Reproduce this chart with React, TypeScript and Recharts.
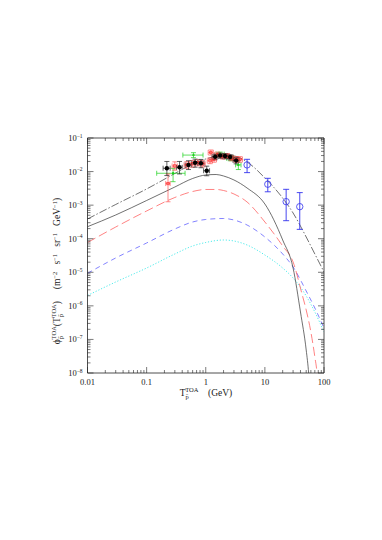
'use client'

import { ComposedChart, Line, Scatter, XAxis, YAxis, ErrorBar } from 'recharts'

const W = 382
const H = 540
const serif = '"Liberation Serif", "DejaVu Serif", serif'
const ink = '#222'

// axis ticks
const xMajor = [0.01, 0.1, 1, 10, 100]
const xMajorLabels = ['0.01', '0.1', '1', '10', '100']
const yMajor = [1e-8, 1e-7, 1e-6, 1e-5, 1e-4, 1e-3, 1e-2, 1e-1]
const yMajorExp = ['\u22128', '\u22127', '\u22126', '\u22125', '\u22124', '\u22123', '\u22122', '\u22121']
const minorSteps = [2, 3, 4, 5, 6, 7, 8, 9]

const withMinor = (majors: number[]) => {
  const out: number[] = []
  majors.forEach((m, i) => {
    out.push(m)
    if (i < majors.length - 1) minorSteps.forEach(s => out.push(m * s))
  })
  return out
}
const xTicks = withMinor(xMajor)
const yTicks = withMinor(yMajor)

// model curves
const upperX = [0.01, 0.03, 0.1, 0.3, 0.6, 1, 2, 3, 5, 10, 20, 30, 50, 70, 100]
const upperY = [3.87e-4, 1.046e-3, 3.03e-3, 8.77e-3, 1.68e-2, 2.37e-2, 3.01e-2, 2.91e-2, 1.93e-2, 6.44e-3, 1.63e-3, 5.84e-4, 1.125e-4, 3.51e-5, 1.02e-5]

const solidX = [0.01, 0.03, 0.1, 0.3, 0.6, 1, 1.5, 2, 3, 5, 10, 20, 30, 40, 50, 55, 60]
const solidY = [2.28e-4, 5.09e-4, 1.376e-3, 3.47e-3, 6.22e-3, 7.91e-3, 8.18e-3, 7.39e-3, 5.62e-3, 3.24e-3, 1.082e-3, 9.16e-5, 1.34e-5, 6.56e-7, 4.84e-8, 1e-8, 1e-9]

const redX = [0.01, 0.03, 0.1, 0.3, 0.6, 1, 1.5, 2, 3, 5, 10, 20, 30, 42, 50, 60, 70, 76, 82]
const redY = [7.72e-5, 2.23e-4, 6.7e-4, 1.69e-3, 2.55e-3, 2.93e-3, 2.93e-3, 2.73e-3, 2.15e-3, 1.241e-3, 3.15e-4, 6.07e-5, 2.03e-5, 2.42e-6, 7.53e-7, 1.66e-7, 3.0e-8, 1e-8, 1e-9]

const blueX = [0.01, 0.03, 0.1, 0.3, 0.6, 1, 2, 3, 5, 10, 20, 30, 50, 70, 100]
const blueY = [9.33e-6, 2.67e-5, 7.46e-5, 1.95e-4, 3.15e-4, 3.74e-4, 4.0e-4, 3.61e-4, 2.56e-4, 1.125e-4, 3.51e-5, 1.44e-5, 2.77e-6, 8.64e-7, 2.19e-7]

const cyanX = [0.01, 0.03, 0.1, 0.3, 0.6, 1, 2, 3, 5, 10, 20, 30, 50, 70, 100]
const cyanY = [2.04e-6, 5.14e-6, 1.34e-5, 3.51e-5, 6.07e-5, 7.72e-5, 9.16e-5, 8.55e-5, 6.5e-5, 3.27e-5, 1.34e-5, 6.76e-6, 1.97e-6, 6.56e-7, 1.66e-7]

// measurements
const bessX = [0.22, 0.36, 0.51, 0.66, 0.83, 1.04, 1.44, 1.75, 2.12, 2.58, 3.26]
const bessXLo = [0.19, 0.32, 0.45, 0.58, 0.74, 0.92, 1.28, 1.55, 1.88, 2.3, 2.9]
const bessXHi = [0.25, 0.4, 0.57, 0.74, 0.93, 1.16, 1.61, 1.96, 2.38, 2.9, 3.65]
const bessY = [0.0126, 0.0134, 0.0158, 0.0183, 0.0177, 0.0106, 0.0277, 0.0301, 0.0291, 0.0272, 0.0214]
const bessLo = [0.0076, 0.0085, 0.0115, 0.0135, 0.013, 0.0075, 0.0225, 0.025, 0.024, 0.0225, 0.017]
const bessHi = [0.02, 0.02, 0.021, 0.0235, 0.023, 0.0145, 0.033, 0.0355, 0.034, 0.032, 0.026]

const ptsRedX = [0.23, 0.3, 0.48, 0.59, 0.73, 0.89, 1.18, 1.22, 1.38, 1.57, 1.94, 2.32, 2.75, 3.26, 3.8]
const ptsRedXLo = [0.21, 0.27, 0.43, 0.53, 0.66, 0.8, 1.06, 1.1, 1.24, 1.41, 1.75, 2.09, 2.48, 2.93, 3.42]
const ptsRedXHi = [0.25, 0.33, 0.53, 0.65, 0.8, 0.98, 1.3, 1.34, 1.52, 1.73, 2.13, 2.55, 3.03, 3.59, 4.18]
const ptsRedY = [0.0044, 0.0147, 0.0158, 0.017, 0.0184, 0.017, 0.021, 0.037, 0.023, 0.032, 0.028, 0.029, 0.025, 0.023, 0.023]
const ptsRedLo = [0.00126, 0.011, 0.0125, 0.0135, 0.0148, 0.0137, 0.0172, 0.031, 0.019, 0.027, 0.0235, 0.0245, 0.021, 0.019, 0.019]
const ptsRedHi = [0.0085, 0.0195, 0.0198, 0.0212, 0.0226, 0.021, 0.0255, 0.044, 0.0278, 0.038, 0.0335, 0.0345, 0.0298, 0.0278, 0.0278]

const greenX = [0.28, 0.62, 1.75, 2.6, 3.56]
const greenXLo = [0.148, 0.41, 1.5, 2.25, 3.2]
const greenXHi = [0.447, 0.9, 2.05, 3.0, 3.95]
const greenY = [0.0089, 0.031, 0.033, 0.025, 0.0158]
const greenLo = [0.005, 0.026, 0.0285, 0.021, 0.0115]
const greenHi = [0.0125, 0.0365, 0.038, 0.0295, 0.0215]

const circX = [5.0, 11.2, 22.9, 38.9]
const circY = [0.0158, 0.0042, 0.00127, 0.0009]
const circLo = [0.0093, 0.0025, 0.000344, 0.00019]
const circHi = [0.0232, 0.0063, 0.00296, 0.00236]

const curve = (xs: number[], ys: number[]) => xs.map((x, i) => ({ x, y: ys[i] }))
const points = (xs: number[], ys: number[], lo: number[], hi: number[], xlo?: number[], xhi?: number[]) =>
  xs.map((x, i) => ({
    x,
    y: ys[i],
    ey: [ys[i] - lo[i], hi[i] - ys[i]],
    ex: xlo && xhi ? [x - xlo[i], xhi[i] - x] : [0, 0],
  }))

const isMajor = (v: number) => Math.abs(Math.log10(v) - Math.round(Math.log10(v))) < 1e-6
const majorIndex = (list: number[], v: number) => list.findIndex(m => Math.abs(m - v) / m < 1e-6)

const BottomTick = ({ x, y, payload }: any) => {
  const v = payload.value
  const i = majorIndex(xMajor, v)
  return (
    <g>
      <line x1={x} x2={x} y1={y} y2={y - (isMajor(v) ? 6 : 3)} stroke={ink} strokeWidth={0.6} />
      {i >= 0 && (
        <text x={x} y={y + 12} textAnchor="middle" fontSize={8.5} fontFamily={serif} fill={ink}>
          {xMajorLabels[i]}
        </text>
      )}
    </g>
  )
}

const TopTick = ({ x, y, payload }: any) => (
  <line x1={x} x2={x} y1={y} y2={y + (isMajor(payload.value) ? 6 : 3)} stroke={ink} strokeWidth={0.6} />
)

const LeftTick = ({ x, y, payload }: any) => {
  const v = payload.value
  const i = majorIndex(yMajor, v)
  return (
    <g>
      <line x1={x} x2={x + (isMajor(v) ? 6 : 3)} y1={y} y2={y} stroke={ink} strokeWidth={0.6} />
      {i >= 0 && (
        <text x={x - 5} y={y + 3} textAnchor="end" fontSize={8.5} fontFamily={serif} fill={ink}>
          10<tspan dy={-3.5} fontSize={5.5}>{yMajorExp[i]}</tspan>
        </text>
      )}
    </g>
  )
}

const RightTick = ({ x, y, payload }: any) => (
  <line x1={x} x2={x - (isMajor(payload.value) ? 6 : 3)} y1={y} y2={y} stroke={ink} strokeWidth={0.6} />
)

const sp = '\u00a0'

const Titles = () => (
  <svg width={W} height={H} style={{ position: 'absolute', left: 0, top: 0, pointerEvents: 'none' }}>
    <text x={206} y={396} textAnchor="middle" fontSize={9.5} fontFamily={serif} fill={ink}>
      T<tspan dy={2.5} fontSize={6.5}>p̄</tspan>
      <tspan dx={-3.5} dy={-6.5} fontSize={6.5}>TOA</tspan>
      <tspan dy={4}>{`${sp}${sp}${sp}${sp}(GeV)`}</tspan>
    </text>
    <text transform="translate(60,271) rotate(-90)" textAnchor="middle" fontSize={9.5} fontFamily={serif} fill={ink}>
      ϕ<tspan dy={2.5} fontSize={6.5}>p̄</tspan>
      <tspan dx={-3.5} dy={-6.5} fontSize={6.5}>TOA</tspan>
      <tspan dy={4}>(T</tspan>
      <tspan dy={2.5} fontSize={6.5}>p̄</tspan>
      <tspan dx={-3.5} dy={-6.5} fontSize={6.5}>TOA</tspan>
      <tspan dy={4}>{`)${sp}${sp}${sp}${sp}${sp}(m`}</tspan>
      <tspan dy={-3.5} fontSize={6.5}>{'\u22122'}</tspan>
      <tspan dy={3.5}>{`${sp}${sp}${sp}s`}</tspan>
      <tspan dy={-3.5} fontSize={6.5}>{'\u22121'}</tspan>
      <tspan dy={3.5}>{`${sp}${sp}${sp}sr`}</tspan>
      <tspan dy={-3.5} fontSize={6.5}>{'\u22121'}</tspan>
      <tspan dy={3.5}>{`${sp}${sp}${sp}GeV`}</tspan>
      <tspan dy={-3.5} fontSize={6.5}>{'\u22121'}</tspan>
      <tspan dy={3.5}>)</tspan>
    </text>
  </svg>
)

const dot = (r: number, color: string) => (p: any) => <circle cx={p.cx} cy={p.cy} r={r} fill={color} />
const ring = (r: number, color: string) => (p: any) => (
  <circle cx={p.cx} cy={p.cy} r={r} fill="none" stroke={color} strokeWidth={0.8} />
)
const box = (s: number, color: string) => (p: any) => (
  <rect x={p.cx - s / 2} y={p.cy - s / 2} width={s} height={s} fill="none" stroke={color} strokeWidth={0.7} />
)

export default function App() {
  const axisProps = {
    type: 'number' as const,
    scale: 'log' as const,
    allowDataOverflow: true,
    interval: 0,
    tickSize: 0,
    tickMargin: 0,
    tickLine: false,
    axisLine: { stroke: ink, strokeWidth: 0.8 },
  }
  const lineProps = { dataKey: 'y', dot: false, activeDot: false, isAnimationActive: false, type: 'monotone' as const }

  return (
    <div style={{ position: 'absolute', left: 0, top: 0, width: W, height: H, background: '#fff' }}>
      <ComposedChart width={W} height={H} margin={{ top: 128, right: 48, bottom: 137, left: 47.5 }}>
        <XAxis {...axisProps} dataKey="x" domain={[0.01, 100]} ticks={xTicks} height={30} tick={<BottomTick />} />
        <XAxis {...axisProps} xAxisId="top" orientation="top" dataKey="x" domain={[0.01, 100]} ticks={xTicks} height={10} tick={<TopTick />} />
        <YAxis {...axisProps} dataKey="y" domain={[1e-8, 1e-1]} ticks={yTicks} width={40} tick={<LeftTick />} />
        <YAxis {...axisProps} yAxisId="right" orientation="right" dataKey="y" domain={[1e-8, 1e-1]} ticks={yTicks} width={10} tick={<RightTick />} />

        <Line {...lineProps} data={curve(cyanX, cyanY)} stroke="#22e6e6" strokeWidth={0.8} strokeDasharray="1.2 1.8" />
        <Line {...lineProps} data={curve(blueX, blueY)} stroke="#4d4dff" strokeWidth={0.7} strokeDasharray="5 4" />
        <Line {...lineProps} data={curve(redX, redY)} stroke="#ff4d4d" strokeWidth={0.7} strokeDasharray="9 4" />
        <Line {...lineProps} data={curve(solidX, solidY)} stroke="#333" strokeWidth={0.7} />
        <Line {...lineProps} data={curve(upperX, upperY)} stroke="#333" strokeWidth={0.7} strokeDasharray="8 2 1.5 2" />

        <Scatter data={points(greenX, greenY, greenLo, greenHi, greenXLo, greenXHi)} shape={dot(1.2, '#1bd11b')} isAnimationActive={false}>
          <ErrorBar dataKey="ey" direction="y" width={2.5} stroke="#1bd11b" strokeWidth={0.7} isAnimationActive={false} />
          <ErrorBar dataKey="ex" direction="x" width={2.5} stroke="#1bd11b" strokeWidth={0.7} isAnimationActive={false} />
        </Scatter>
        <Scatter data={points(ptsRedX, ptsRedY, ptsRedLo, ptsRedHi, ptsRedXLo, ptsRedXHi)} shape={box(2.4, '#ff2a2a')} isAnimationActive={false}>
          <ErrorBar dataKey="ey" direction="y" width={2.5} stroke="#ff3a3a" strokeWidth={0.6} isAnimationActive={false} />
          <ErrorBar dataKey="ex" direction="x" width={2.5} stroke="#ff3a3a" strokeWidth={0.6} isAnimationActive={false} />
        </Scatter>
        <Scatter data={points(bessX, bessY, bessLo, bessHi, bessXLo, bessXHi)} shape={dot(2.2, '#000')} isAnimationActive={false}>
          <ErrorBar dataKey="ey" direction="y" width={2.5} stroke="#222" strokeWidth={0.7} isAnimationActive={false} />
          <ErrorBar dataKey="ex" direction="x" width={2.5} stroke="#222" strokeWidth={0.7} isAnimationActive={false} />
        </Scatter>
        <Scatter data={points(circX, circY, circLo, circHi)} shape={ring(3.2, '#3333ee')} isAnimationActive={false}>
          <ErrorBar dataKey="ey" direction="y" width={3} stroke="#3333ee" strokeWidth={0.9} isAnimationActive={false} />
        </Scatter>
      </ComposedChart>
      <Titles />
    </div>
  )
}
